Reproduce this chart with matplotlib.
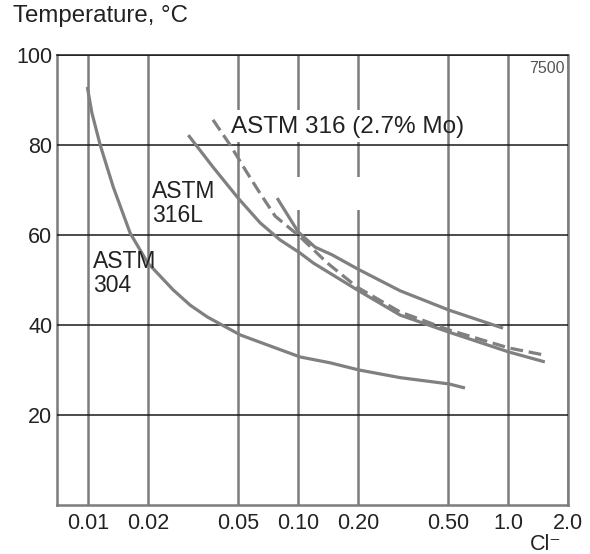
import numpy as np
import matplotlib
matplotlib.use("Agg")
import matplotlib.pyplot as plt
from matplotlib.patches import Rectangle

plt.rcParams['font.family'] = ['Liberation Sans', 'DejaVu Sans']

# ---- data ----
tick_vals = [0.01, 0.02, 0.05, 0.10, 0.20, 0.50, 1.0, 2.0]
tick_labels = ['0.01', '0.02', '0.05', '0.10', '0.20', '0.50', '1.0', '2.0']
y_ticks = [20, 40, 60, 80, 100]

astm304_x = [0.0099, 0.01044, 0.01149, 0.01335, 0.01625, 0.0199, 0.0258, 0.0307,
             0.0365, 0.0512, 0.0749, 0.1023, 0.1447, 0.202, 0.307, 0.506, 0.608]
astm304_t = [92.9, 87.1, 80.0, 70.7, 60.4, 53.8, 47.8, 44.4,
             41.8, 37.8, 35.1, 32.9, 31.6, 30.0, 28.3, 26.9, 26.0]

astm316L_x = [0.0301, 0.0387, 0.05, 0.0645, 0.0812, 0.1023, 0.119, 0.198, 0.307, 0.506, 1.01, 1.53]
astm316L_t = [82.2, 75.1, 68.2, 62.7, 58.9, 56.0, 53.8, 47.8, 42.2, 38.4, 34.0, 31.8]

astm316_x = [0.0387, 0.0461, 0.0548, 0.0637, 0.0767, 0.1023, 0.140, 0.198, 0.307, 0.506, 1.01, 1.53]
astm316_t = [85.6, 80.0, 74.2, 69.6, 64.2, 59.6, 53.8, 48.4, 42.9, 38.9, 34.9, 33.3]

upper_x = [0.0785, 0.100, 0.1217, 0.148, 0.200, 0.307, 0.506, 0.944]
upper_t = [68.2, 60.7, 57.3, 55.6, 52.4, 47.6, 43.3, 39.3]

# ---- custom x scale (chart's own spacing) ----
knots_v = np.log10([0.0025, 0.005, 0.01, 0.02, 0.05, 0.1, 0.2, 0.5, 1, 2, 4])
knots_p = np.array([-2, -1, 0, 1, 2.5, 3.5, 4.5, 6, 7, 8, 9], dtype=float)

def fwd(x):
    x = np.asarray(x, dtype=float)
    return np.interp(np.log10(np.clip(x, 1e-9, None)), knots_v, knots_p)

def inv(p):
    return 10 ** np.interp(np.asarray(p, dtype=float), knots_p, knots_v)

fig = plt.figure(figsize=(5.9, 5.54), dpi=100)
ax = fig.add_axes([57/590, 1-505/554, (568-57)/590, (505-55)/554])
ax.set_xscale('function', functions=(fwd, inv))
ax.set_xlim(inv(-0.52), 2.0)
ax.set_ylim(0, 100)

grid_v = '#7c7c7c'
curve_c = '#808080'

for v in tick_vals:
    ax.axvline(v, color=grid_v, lw=1.8, zorder=1)

# white masks (label area and erased area in the original)
ax.add_patch(Rectangle((0.0472, 80.6), 0.465-0.0472, 87.8-80.6, facecolor='white', edgecolor='none', zorder=2))
ax.add_patch(Rectangle((0.093, 65.6), 0.40-0.093, 72.9-65.6, facecolor='white', edgecolor='none', zorder=2))

for t in y_ticks:
    ax.axhline(t, color='#1a1a1a', lw=1.1, zorder=3)

lw = 2.3
ax.plot(astm304_x, astm304_t, color=curve_c, lw=lw, zorder=4, solid_capstyle='butt', solid_joinstyle='round')
ax.plot(astm316L_x, astm316L_t, color=curve_c, lw=lw, zorder=4, solid_capstyle='butt', solid_joinstyle='round')
ax.plot(upper_x, upper_t, color=curve_c, lw=lw, zorder=4, solid_capstyle='butt', solid_joinstyle='round')
ax.plot(astm316_x, astm316_t, color=curve_c, lw=lw, zorder=4, linestyle=(0, (4, 1.8)))

ax.set_xticks(tick_vals)
ax.set_xticklabels(tick_labels)
ax.xaxis.set_minor_locator(matplotlib.ticker.NullLocator())
ax.set_yticks(y_ticks)
ax.set_yticklabels([str(t) for t in y_ticks])
ax.tick_params(axis='both', length=0, labelsize=15.5, colors='#222222')
ax.tick_params(axis='x', pad=6)
ax.tick_params(axis='y', pad=3.5)

for s in ['left', 'bottom', 'right']:
    ax.spines[s].set_color(grid_v)
    ax.spines[s].set_linewidth(1.8)
ax.spines['top'].set_color('#1a1a1a')
ax.spines['top'].set_linewidth(1.1)

lab_kw = dict(fontsize=16.5, color='#222222', zorder=5, linespacing=1.05)
ax.text(0.0106, 56.7, 'ASTM\n304', ha='left', va='top', **lab_kw)
ax.text(0.0208, 72.2, 'ASTM\n316L', ha='left', va='top', **lab_kw)
ax.text(0.0466, 84.0, 'ASTM 316 (2.7% Mo)', ha='left', va='center',
        fontsize=17.5, color='#222222', zorder=5)
ax.text(0.994, 0.986, '7500', transform=ax.transAxes, ha='right', va='top', fontsize=11.5, color='#555555')

fig.text(13/590, 1-5/554, 'Temperature, °C', ha='left', va='top', fontsize=17.3, color='#222222')
fig.text(562/590, 1-545/554, 'Cl⁻', ha='right', va='center', fontsize=15.5, color='#222222')

fig.savefig('out.png', dpi=100)
